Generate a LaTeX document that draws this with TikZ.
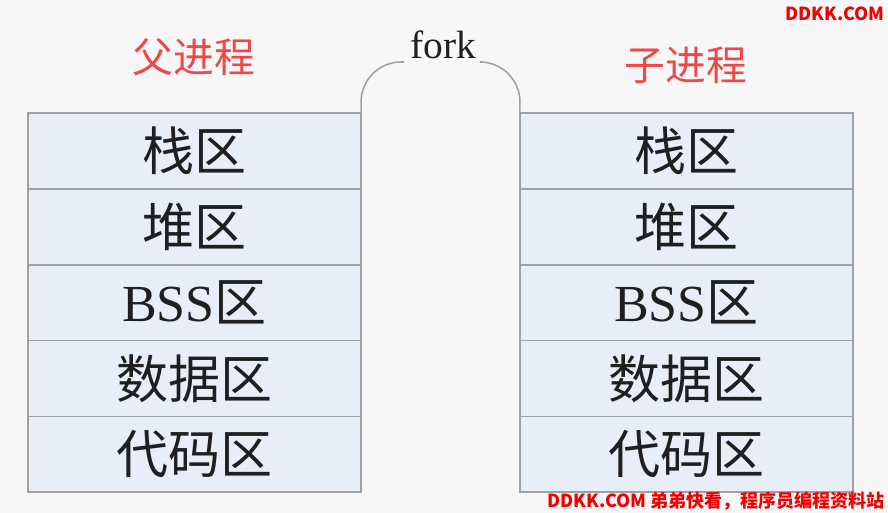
\documentclass[tikz,border=0pt]{standalone}
\usepackage{fontspec}
\usepackage{tikz}
\usetikzlibrary{positioning}
\setmainfont{Liberation Serif}
\newfontfamily\cjk{Noto Sans CJK SC}
\definecolor{pagebg}{HTML}{F7F7F7}
\definecolor{cellfill}{HTML}{E8EEF8}
\definecolor{cellline}{HTML}{A0A0A0}
\definecolor{namered}{HTML}{F04848}
\definecolor{markred}{HTML}{F00000}

\begin{document}
\begin{tikzpicture}[
    x=0.025cm, y=-0.025cm,
    % estilo de cada zona de memoria
    cell/.style={rectangle, draw=cellline, fill=cellfill, line width=1.1pt,
      minimum width=8.325cm, minimum height=1.895cm, inner sep=0pt,
      outer sep=0pt, text=black!88, font=\fontsize{37}{40}\selectfont},
    procname/.style={text=namered, font=\cjk\fontsize{29}{32}\selectfont},
    watermark/.style={text=markred, inner sep=0pt, font=\cjk\bfseries\fontsize{12.8}{15}\selectfont}
  ]

  % fondo y margenes
  \useasboundingbox (0,0) rectangle (888,513);
  \fill[pagebg] (0,0) rectangle (888,513);

  % 1. Nombres de los procesos
  \node[procname] (parent) at (194,57) {父进程};
  \node[procname] (child) at (686,65) {子进程};

  % 2. Zonas del proceso padre
  \node[cell] (p1) at (194.5,151) {{\cjk 栈区}};
  \node[cell, below=0pt of p1] (p2) {{\cjk 堆区}};
  \node[cell, below=0pt of p2] (p3) {BSS{\cjk 区}};
  \node[cell, below=0pt of p3] (p4) {{\cjk 数据区}};
  \node[cell, below=0pt of p4] (p5) {{\cjk 代码区}};

  % 3. Zonas del proceso hijo
  \node[cell] (c1) at (686.5,151) {{\cjk 栈区}};
  \node[cell, below=0pt of c1] (c2) {{\cjk 堆区}};
  \node[cell, below=0pt of c2] (c3) {BSS{\cjk 区}};
  \node[cell, below=0pt of c3] (c4) {{\cjk 数据区}};
  \node[cell, below=0pt of c4] (c5) {{\cjk 代码区}};

  % 4. El arco de fork
  \node[font=\fontsize{28}{30}\selectfont, text=black!88] (fork) at (443,45) {fork};
  \coordinate (forkl) at (404,62);
  \coordinate (forkr) at (482,62);
  \draw[cellline, line width=1.1pt, rounded corners=1cm] (p1.north east) |- (forkl);
  \draw[cellline, line width=1.1pt, rounded corners=1cm] (c1.north west) |- (forkr);

  % marcas de agua
  \node[watermark, anchor=east] (mtop) at (885,14) {DDKK.COM};
  \node[watermark, anchor=east] (mbot) at (885,501) {DDKK.COM 弟弟快看，程序员编程资料站};
\end{tikzpicture}
\end{document}
